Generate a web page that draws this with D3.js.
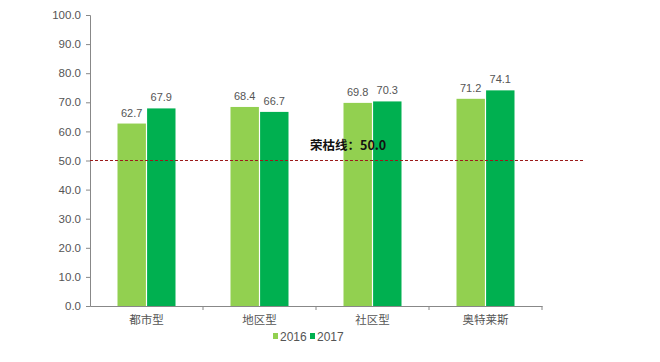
<!DOCTYPE html>
<html><head><meta charset="utf-8">
<script src="https://cdn.jsdelivr.net/npm/d3@7/dist/d3.min.js"></script>
<style>body{margin:0;background:#fff}svg{display:block}</style>
</head><body>
<svg id="c" width="660" height="362"></svg>
<script>
const categories = ["都市型","地区型","社区型","奥特莱斯"];
const seriesNames = ["2016","2017"];
const values2016 = [62.7, 68.4, 69.8, 71.2];
const values2017 = [67.9, 66.7, 70.3, 74.1];
const yTicks = [0,10,20,30,40,50,60,70,80,90,100];
const thresholdValue = 50.0;
const thresholdLabel = "荣枯线：";
const colors = ["#92D050", "#00B050"];

(function(){
const svg = d3.select("#c");
const mLeft = 90, mRight = 542, mTop = 15, mBottom = 306;
const font = "'Noto Sans CJK SC', 'Liberation Sans', Arial, sans-serif";

const x = d3.scaleBand().domain(categories).range([mLeft, mRight]).paddingInner(0).paddingOuter(0);
const x1 = d3.scaleBand().domain(seriesNames).range([x.bandwidth()/2 - 29, x.bandwidth()/2 + 29]).paddingInner(0.04);
const y = d3.scaleLinear().domain([0, 100]).range([mBottom, mTop]);

const ya = svg.append("g").attr("transform", `translate(${mLeft},0)`)
  .call(d3.axisLeft(y).tickValues(yTicks).tickFormat(d3.format(".1f")).tickSize(4).tickPadding(5));
ya.select(".domain").attr("stroke", "#888");
ya.selectAll(".tick line").attr("stroke", "#888");
ya.selectAll(".tick text").attr("fill", "#555").style("font-family", "'Liberation Sans', Arial, sans-serif").style("font-size", "11.5px");

const xa = svg.append("g").attr("transform", `translate(0,${mBottom})`)
  .call(d3.axisBottom(x).tickSize(0).tickPadding(10));
xa.select(".domain").attr("stroke", "#888");
xa.selectAll(".tick text").attr("fill", "#555").style("font-family", font).style("font-size", "11.5px");
const bounds = categories.map(c => x(c) + x.bandwidth());
svg.append("g").selectAll("line").data(bounds).join("line")
  .attr("x1", d => d).attr("x2", d => d).attr("y1", mBottom).attr("y2", mBottom + 4)
  .attr("stroke", "#888");

const data = categories.map((c, i) => ({cat: c, vals: [values2016[i], values2017[i]]}));

const g = svg.append("g").selectAll("g").data(data).join("g")
  .attr("transform", d => `translate(${x(d.cat)},0)`);
g.selectAll("rect").data(d => d.vals.map((v, j) => ({v, s: seriesNames[j], j})))
  .join("rect")
  .attr("x", d => x1(d.s)).attr("width", x1.bandwidth())
  .attr("y", d => y(d.v)).attr("height", d => mBottom - y(d.v))
  .attr("fill", d => colors[d.j]);
g.selectAll("text").data(d => d.vals.map((v, j) => ({v, s: seriesNames[j], j})))
  .join("text")
  .attr("x", d => x1(d.s) + x1.bandwidth()/2).attr("y", d => y(d.v) - 7)
  .attr("text-anchor", "middle").attr("fill", "#555")
  .style("font-family", "'Liberation Sans', Arial, sans-serif").style("font-size", "11px")
  .text(d => d.v.toFixed(1));

svg.append("line").attr("x1", mLeft).attr("x2", 583)
  .attr("y1", y(thresholdValue)).attr("y2", y(thresholdValue))
  .attr("stroke", "#9B1B1B").attr("stroke-width", 1).attr("stroke-dasharray", "3,2");
svg.append("text").attr("x", 310).attr("y", y(thresholdValue) - 11)
  .attr("fill", "#111").style("font-family", font).style("font-size", "12.5px").style("font-weight", "bold")
  .text(thresholdLabel + thresholdValue.toFixed(1));

const lg = svg.append("g").attr("transform", "translate(273,341)");
const items = lg.selectAll("g").data(seriesNames).join("g")
  .attr("transform", (d, i) => `translate(${i * 37},0)`);
items.append("rect").attr("x", 0).attr("y", -8).attr("width", 5).attr("height", 6).attr("fill", (d, i) => colors[i]);
items.append("text").attr("x", 7).attr("y", 0).attr("fill", "#555")
  .style("font-family", "'Liberation Sans', Arial, sans-serif").style("font-size", "12px").text(d => d);
})();
</script>
</body></html>
